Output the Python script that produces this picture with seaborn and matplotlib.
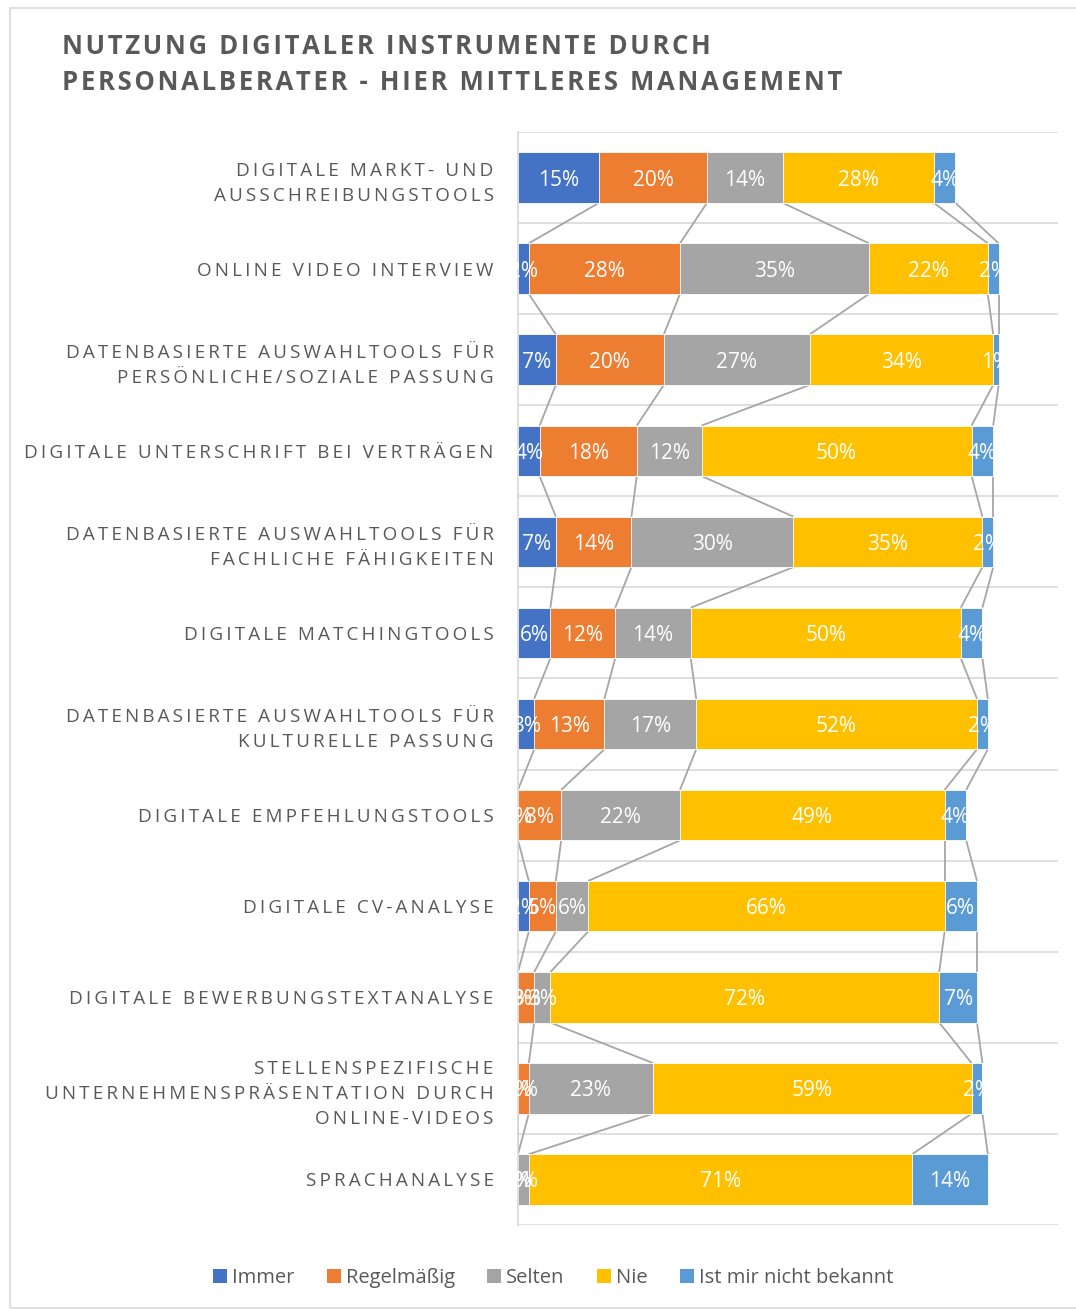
import matplotlib
matplotlib.use("Agg")
import matplotlib.pyplot as plt
from matplotlib.patches import Rectangle, Patch
import numpy as np
import pandas as pd
import seaborn as sns

# --- data -------------------------------------------------------------
categories = [
    "DIGITALE MARKT- UND\nAUSSCHREIBUNGSTOOLS",
    "ONLINE VIDEO INTERVIEW",
    "DATENBASIERTE AUSWAHLTOOLS FÜR\nPERSÖNLICHE/SOZIALE PASSUNG",
    "DIGITALE UNTERSCHRIFT BEI VERTRÄGEN",
    "DATENBASIERTE AUSWAHLTOOLS FÜR\nFACHLICHE FÄHIGKEITEN",
    "DIGITALE MATCHINGTOOLS",
    "DATENBASIERTE AUSWAHLTOOLS FÜR\nKULTURELLE PASSUNG",
    "DIGITALE EMPFEHLUNGSTOOLS",
    "DIGITALE CV-ANALYSE",
    "DIGITALE BEWERBUNGSTEXTANALYSE",
    "STELLENSPEZIFISCHE\nUNTERNEHMENSPRÄSENTATION DURCH\nONLINE-VIDEOS",
    "SPRACHANALYSE",
]
series_names = ["Immer", "Regelmäßig", "Selten", "Nie", "Ist mir nicht bekannt"]
immer = [15, 2, 7, 4, 7, 6, 3, 0, 2, 0, 0, 0]
regelmaessig = [20, 28, 20, 18, 14, 12, 13, 8, 5, 3, 2, 0]
selten = [14, 35, 27, 12, 30, 14, 17, 22, 6, 3, 23, 2]
nie = [28, 22, 34, 50, 35, 50, 52, 49, 66, 72, 59, 71]
unbekannt = [4, 2, 1, 4, 2, 4, 2, 4, 6, 7, 2, 14]
colors = ["#4472C4", "#ED7D31", "#A5A5A5", "#FFC000", "#5B9BD5"]
title_lines = ["NUTZUNG DIGITALER INSTRUMENTE DURCH",
               "PERSONALBERATER - HIER MITTLERES MANAGEMENT"]

TEXT = "#595959"
FONT = ["Open Sans", "DejaVu Sans"]


def tracked(s, gap="\u2009"):
    """Spread capital letters apart for the tracked heading style."""
    return "\n".join(gap.join(line) for line in s.split("\n"))


values = np.array([immer, regelmaessig, selten, nie, unbekannt], dtype=float)
cum = values.cumsum(axis=0)
df = pd.DataFrame(cum.T, columns=series_names)
df["Kategorie"] = categories

# --- figure -----------------------------------------------------------
W, H, DPI = 1076, 1310, 100
fig = plt.figure(figsize=(W / DPI, H / DPI), dpi=DPI)
fig.patch.set_facecolor("white")
fig.patches.append(Rectangle((10 / W, 1 - 1308 / H), 1.2, (1308 - 8) / H,
                             transform=fig.transFigure, fill=False,
                             edgecolor="#d9d9d9", linewidth=1.2))

ax = fig.add_axes([518 / W, 1 - 1225 / H, (1058 - 518) / W, (1225 - 132) / H])

bar_h = 0.555
# stacked bars: draw cumulative totals from the outermost series inwards
for i in range(len(series_names) - 1, -1, -1):
    sns.barplot(data=df, x=series_names[i], y="Kategorie", orient="h",
                color=colors[i], width=bar_h, ax=ax, saturation=1,
                edgecolor="white", linewidth=0.6, zorder=2)

ax.set_xlim(0, 100)
ax.set_ylim(len(categories) - 0.5, -0.5)
ax.set_xlabel("")
ax.set_ylabel("")
ax.set_xticks([])
for s in ["top", "right", "bottom"]:
    ax.spines[s].set_visible(False)
ax.spines["left"].set_color("#d9d9d9")
ax.spines["left"].set_linewidth(1.2)
for yb in np.arange(-0.5, len(categories), 1.0):
    ax.axhline(yb, color="#d9d9d9", linewidth=1.2, zorder=0)

# series lines joining segment ends of neighbouring bars
for k in range(cum.shape[0]):
    for r in range(len(categories) - 1):
        ax.plot([cum[k, r], cum[k, r + 1]], [r + bar_h / 2, r + 1 - bar_h / 2],
                color="#a6a6a6", linewidth=1.3, zorder=1, solid_capstyle="butt")

# category labels
ax.set_yticks(range(len(categories)))
ax.set_yticklabels([tracked(c) for c in categories], fontsize=13.55,
                   color=TEXT, family=FONT, linespacing=1.5)
ax.tick_params(axis="y", length=0, pad=17.5)

# value labels, clipped to the extent of each bar
for r in range(len(categories)):
    clip = Rectangle((0, r - bar_h / 2), cum[-1, r], bar_h,
                     transform=ax.transData, visible=False)
    ax.add_patch(clip)
    for k in range(values.shape[0]):
        v = values[k, r]
        x = cum[k, r] - v / 2
        t = ax.text(x, r, f"{v:.0f}%", ha="center", va="center_baseline",
                    color="white", fontsize=15, family=FONT, zorder=5)
        t.set_clip_path(clip)

# title
for yy, line in zip([47, 83], title_lines):
    fig.text(62 / W, 1 - yy / H, tracked(line, "\u200a"), ha="left",
             va="center", fontsize=18.5, fontweight="bold", color=TEXT,
             family=FONT)

# legend
handles = [Patch(facecolor=c, edgecolor="none") for c in colors]
fig.legend(handles, series_names, loc="center", ncol=5,
           bbox_to_anchor=(553 / W, 1 - 1278 / H), frameon=False,
           prop={"family": FONT, "size": 14.5}, labelcolor=TEXT,
           handlelength=0.7, handleheight=0.7, handletextpad=0.25,
           columnspacing=1.6)

fig.savefig("out.png", dpi=DPI, facecolor="white")
